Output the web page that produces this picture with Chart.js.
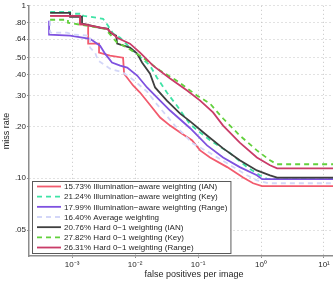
<!DOCTYPE html>
<html>
<head>
<meta charset="utf-8">
<script src="https://cdn.jsdelivr.net/npm/chart.js@4"></script>
<style>
body { margin: 0; background: #fff; }
#wrap { width: 333px; height: 283px; }
</style>
</head>
<body>
<div id="wrap"><canvas id="roc" width="333" height="283"></canvas></div>
<script>
var seriesLabels = [
    "15.73% Illumination\u2212aware weighting (IAN)",
    "21.24% Illumination\u2212aware weighting (Key)",
    "17.99% Illumination\u2212aware weighting (Range)",
    "16.40% Average weighting",
    "20.76% Hard 0\u22121 weighting (IAN)",
    "27.82% Hard 0\u22121 weighting (Key)",
    "26.31% Hard 0\u22121 weighting (Range)"
];
var seriesColors = ["#f25b6e", "#3fe3a6", "#7f52e0", "#d3d6f8", "#3f3f3f", "#62d03c", "#c93c68"];
var seriesDash = [[], [5, 4], [], [5, 4], [], [5, 4], []];

// false positives per image / miss rate
var ianIaFppi = [4.48e-4, 1.34e-3, 1.34e-3, 1.80e-3, 1.80e-3, 2.68e-3, 2.68e-3, 4.0e-3, 6.45e-3, 6.7e-3, 9.3e-3, 0.012, 0.0161, 0.025, 0.036, 0.052, 0.080, 0.108, 0.155, 0.29, 0.52, 0.75, 1.04, 13.9];
var ianIaMiss = [0.875, 0.875, 0.777, 0.777, 0.603, 0.603, 0.535, 0.514, 0.5, 0.404, 0.345, 0.314, 0.275, 0.225, 0.202, 0.184, 0.166, 0.145, 0.132, 0.116, 0.101, 0.0935, 0.0899, 0.0899];

var keyIaFppi = [4.48e-4, 9.3e-4, 9.3e-4, 1.5e-3, 1.5e-3, 3.1e-3, 3.73e-3, 4.5e-3, 5.8e-3, 9.3e-3, 0.0173, 0.0223, 0.032, 0.046, 0.075, 0.155, 0.32, 0.60, 0.96, 1.29, 13.9];
var keyIaMiss = [0.923, 0.923, 0.899, 0.899, 0.875, 0.841, 0.766, 0.689, 0.653, 0.549, 0.45, 0.383, 0.314, 0.264, 0.205, 0.166, 0.140, 0.116, 0.104, 0.0987, 0.0987];

var rangeIaFppi = [4.31e-4, 4.31e-4, 9.3e-4, 1.93e-3, 2.78e-3, 3.34e-3, 4.3e-3, 5.8e-3, 7.5e-3, 0.0108, 0.0155, 0.025, 0.036, 0.075, 0.139, 0.25, 0.46, 0.86, 1.04, 13.9];
var rangeIaMiss = [0.819, 0.68, 0.671, 0.644, 0.587, 0.528, 0.469, 0.45, 0.438, 0.394, 0.336, 0.282, 0.247, 0.195, 0.155, 0.132, 0.116, 0.104, 0.0987, 0.0987];

var avgFppi = [4.48e-4, 4.48e-4, 8.3e-4, 1.04e-3, 1.93e-3, 1.93e-3, 2.32e-3, 2.59e-3, 4.0e-3, 6.45e-3, 9.3e-3, 0.0155, 0.0223, 0.043, 0.083, 0.155, 0.29, 0.60, 0.86, 1.29, 13.9];
var avgMiss = [0.819, 0.698, 0.698, 0.68, 0.671, 0.572, 0.535, 0.481, 0.432, 0.41, 0.373, 0.318, 0.268, 0.202, 0.159, 0.140, 0.122, 0.104, 0.0973, 0.0935, 0.0935];

var ianHardFppi = [4.48e-4, 9.3e-4, 9.3e-4, 1.44e-3, 1.44e-3, 2.78e-3, 3.73e-3, 4.0e-3, 5.0e-3, 5.2e-3, 8.3e-3, 0.0108, 0.0129, 0.0173, 0.0208, 0.032, 0.052, 0.075, 0.139, 0.25, 0.46, 0.86, 1.39, 1.8, 13.9];
var ianHardMiss = [0.911, 0.911, 0.864, 0.864, 0.787, 0.746, 0.736, 0.698, 0.671, 0.603, 0.572, 0.528, 0.469, 0.404, 0.336, 0.282, 0.237, 0.2136, 0.177, 0.149, 0.127, 0.111, 0.104, 0.1007, 0.1007];

var keyHardFppi = [4.48e-4, 8.6e-4, 8.6e-4, 3.34e-3, 5.2e-3, 7.5e-3, 0.0134, 0.025, 0.046, 0.096, 0.155, 0.25, 0.46, 0.86, 1.39, 1.8, 13.9];
var keyHardMiss = [0.830, 0.830, 0.798, 0.736, 0.611, 0.572, 0.5, 0.421, 0.368, 0.302, 0.271, 0.222, 0.177, 0.145, 0.127, 0.1205, 0.1205];

var rangeHardFppi = [4.48e-4, 1.34e-3, 1.34e-3, 3.59e-3, 5.2e-3, 8.3e-3, 0.012, 0.0193, 0.036, 0.067, 0.108, 0.173, 0.25, 0.46, 0.86, 1.39, 1.8, 13.9];
var rangeHardMiss = [0.875, 0.875, 0.787, 0.736, 0.653, 0.603, 0.535, 0.45, 0.379, 0.323, 0.282, 0.241, 0.202, 0.161, 0.132, 0.119, 0.114, 0.114];

var xTicks = [1e-3, 1e-2, 1e-1, 1, 10];
var xTickLabels = ["10\u207b\u00b3", "10\u207b\u00b2", "10\u207b\u00b9", "10\u2070", "10\u00b9"];
var yTicks = [0.05, 0.1, 0.2, 0.3, 0.4, 0.5, 0.64, 0.8, 1];
var yTickLabels = [".05", ".10", ".20", ".30", ".40", ".50", ".64", ".80", "1"];

var allFppi = [ianIaFppi, keyIaFppi, rangeIaFppi, avgFppi, ianHardFppi, keyHardFppi, rangeHardFppi];
var allMiss = [ianIaMiss, keyIaMiss, rangeIaMiss, avgMiss, ianHardMiss, keyHardMiss, rangeHardMiss];

var datasets = [];
for (let i = 0; i < allFppi.length; i++) {
    var pts = [];
    for (let j = 0; j < allFppi[i].length; j++) {
        pts.push({ x: allFppi[i][j], y: allMiss[i][j] });
    }
    datasets.push({
        label: seriesLabels[i],
        data: pts,
        borderColor: seriesColors[i],
        borderDash: seriesDash[i],
        borderWidth: 1.8,
        pointRadius: 0,
        fill: false,
        tension: 0,
        order: allFppi.length - 1 - i,
    });
}

var font = "Liberation Sans";

// boxed legend in the lower left corner, like the matlab one
var legendBox = {
    id: "legendBox",
    afterDatasetsDraw: function(chart) {
        var ctx = chart.ctx;
        var area = chart.chartArea;
        ctx.save();
        ctx.font = "8px '" + font + "'";
        var maxW = 0;
        for (let i = 0; i < seriesLabels.length; i++) {
            maxW = Math.max(maxW, ctx.measureText(seriesLabels[i]).width);
        }
        var rowH = 10.17;
        var left = area.left + 3;
        var bottom = area.bottom - 3;
        var top = bottom - 72;
        var right = left + 32 + maxW + 3;
        ctx.fillStyle = "#fff";
        ctx.fillRect(left, top, right - left, bottom - top);
        ctx.strokeStyle = "#5a5a5a";
        ctx.lineWidth = 1;
        ctx.strokeRect(left + 0.5, top + 0.5, right - left, bottom - top);
        ctx.textBaseline = "middle";
        for (let i = 0; i < chart.data.datasets.length; i++) {
            var ds = chart.data.datasets[i];
            var y = top + 5.5 + i * rowH;
            ctx.beginPath();
            ctx.setLineDash(ds.borderDash);
            ctx.strokeStyle = ds.borderColor;
            ctx.lineWidth = 1.8;
            ctx.moveTo(left + 5, y);
            ctx.lineTo(left + 29, y);
            ctx.stroke();
            ctx.setLineDash([]);
            ctx.fillStyle = "#262626";
            ctx.fillText(ds.label, left + 32, y + 0.5);
        }
        ctx.restore();
    },
    afterDraw: function(chart) {
        var ctx = chart.ctx;
        var area = chart.chartArea;
        ctx.save();
        ctx.font = "9px '" + font + "'";
        ctx.fillStyle = "#262626";
        ctx.textAlign = "center";
        ctx.textBaseline = "middle";
        ctx.fillText("false positives per image", (area.left + area.right) / 2 + 13, area.bottom + 19);
        ctx.restore();
    }
};

const ctx = document.getElementById("roc").getContext("2d");
const myChart = new Chart(ctx, {
    type: "line",
    data: { datasets: datasets },
    plugins: [legendBox],
    options: {
        responsive: false,
        animation: false,
        layout: { padding: { top: 5, right: 0, bottom: 0, left: 0 } },
        plugins: {
            legend: { display: false },
            tooltip: { enabled: false },
        },
        scales: {
            x: {
                type: "logarithmic",
                min: 2.07e-4,
                max: 13.9,
                afterBuildTicks: function(scale) {
                    scale.ticks = xTicks.map(function(v) { return { value: v }; });
                },
                afterFit: function(scale) { scale.height = 27; },
                ticks: {
                    callback: function(v, i) { return xTickLabels[i]; },
                    font: { family: font, size: 8 },
                    color: "#262626",
                    maxRotation: 0,
                    autoSkip: false,
                    padding: 2,
                },
                grid: { color: "#c4c4c4", lineWidth: 1, tickLength: 2, tickColor: "#8c8c8c" },
                border: { color: "#8c8c8c", width: 1.5, dash: [1, 3] },
            },
            y: {
                type: "logarithmic",
                min: 0.0354,
                max: 1,
                afterBuildTicks: function(scale) {
                    scale.ticks = yTicks.map(function(v) { return { value: v }; });
                },
                afterFit: function(scale) { scale.width = 29; },
                ticks: {
                    callback: function(v, i) { return yTickLabels[i]; },
                    font: { family: font, size: 8 },
                    color: "#262626",
                    autoSkip: false,
                    padding: 1,
                },
                grid: { color: "#c4c4c4", lineWidth: 1, tickLength: 2, tickColor: "#8c8c8c" },
                border: { color: "#8c8c8c", width: 1.5, dash: [1, 3] },
                title: {
                    display: true,
                    text: "miss rate",
                    font: { family: font, size: 9 },
                    color: "#262626",
                    padding: { top: 1, bottom: 0 },
                },
            },
        },
    },
});
</script>
</body>
</html>
